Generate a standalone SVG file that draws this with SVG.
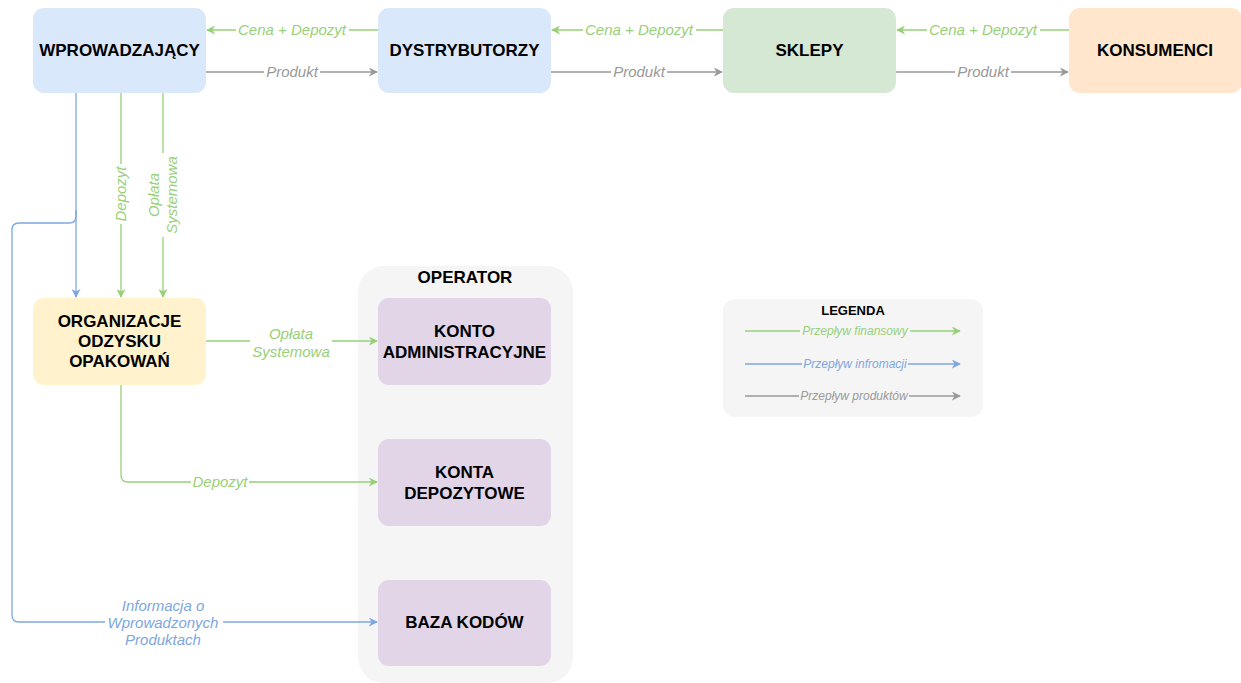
<svg xmlns="http://www.w3.org/2000/svg" width="1241" height="683" viewBox="0 0 1241 683">
<defs>
<style>
.node{stroke:none}
.blue{fill:#dae8fc}.green{fill:#d5e8d4}.orange{fill:#ffe6cc}.yellow{fill:#fff2cc}.purple{fill:#e1d5e7}.grey{fill:#f5f5f5}
.nt{font-family:"Liberation Sans",Arial,sans-serif;font-weight:bold;font-size:17px;fill:#000;text-anchor:middle}
.lbl{font-family:"Liberation Sans",Arial,sans-serif;font-style:italic;font-size:15px;text-anchor:middle}
.lg{font-family:"Liberation Sans",Arial,sans-serif;font-style:italic;font-size:12px;text-anchor:middle}
.cg{stroke:#97d077;fill:none;stroke-width:1.3}
.cb{stroke:#7ea6e0;fill:none;stroke-width:1.3}
.cy{stroke:#999999;fill:none;stroke-width:1.3}
.tg{fill:#97d077}.tb{fill:#7ea6e0}.ty{fill:#999999}
.bg{fill:#ffffff}
</style>
<marker id="ag" viewBox="0 0 10 10" refX="9" refY="5" markerWidth="9" markerHeight="9" markerUnits="userSpaceOnUse" orient="auto"><path d="M0,0 L10,5 L0,10 L3,5 z" fill="#97d077"/></marker>
<marker id="ab" viewBox="0 0 10 10" refX="9" refY="5" markerWidth="9" markerHeight="9" markerUnits="userSpaceOnUse" orient="auto"><path d="M0,0 L10,5 L0,10 L3,5 z" fill="#7ea6e0"/></marker>
<marker id="ay" viewBox="0 0 10 10" refX="9" refY="5" markerWidth="9" markerHeight="9" markerUnits="userSpaceOnUse" orient="auto"><path d="M0,0 L10,5 L0,10 L3,5 z" fill="#999999"/></marker>
</defs>
<rect width="1241" height="683" fill="#ffffff"/>

<g id="operator">
<rect class="grey" x="358" y="266" width="215" height="417" rx="26"/>
<text class="nt" x="465" y="283">OPERATOR</text>
</g>

<g id="legend">
<rect class="grey" x="723" y="299" width="260" height="118" rx="12"/>
<text class="nt" x="853" y="315" style="font-size:13px">LEGENDA</text>
<line class="cg" x1="745" y1="331" x2="960" y2="331" marker-end="url(#ag)"/>
<rect class="grey" x="800" y="324" width="110" height="14"/>
<text class="lg tg" x="855" y="335">Przepływ finansowy</text>
<line class="cb" x1="745" y1="364" x2="960" y2="364" marker-end="url(#ab)"/>
<rect class="grey" x="802" y="357" width="106" height="14"/>
<text class="lg tb" x="855" y="368">Przepływ infromacji</text>
<line class="cy" x1="745" y1="396" x2="960" y2="396" marker-end="url(#ay)"/>
<rect class="grey" x="799" y="389" width="110" height="14"/>
<text class="lg ty" x="854" y="400">Przepływ produktów</text>
</g>

<g id="connectors">
<line class="cg" x1="378" y1="30" x2="207" y2="30" marker-end="url(#ag)"/>
<line class="cg" x1="723" y1="30" x2="552" y2="30" marker-end="url(#ag)"/>
<line class="cg" x1="1069" y1="30" x2="897" y2="30" marker-end="url(#ag)"/>
<line class="cy" x1="206" y1="72" x2="377" y2="72" marker-end="url(#ay)"/>
<line class="cy" x1="551" y1="72" x2="722" y2="72" marker-end="url(#ay)"/>
<line class="cy" x1="896" y1="72" x2="1068" y2="72" marker-end="url(#ay)"/>
<line class="cb" x1="76" y1="93" x2="76" y2="297" marker-end="url(#ab)"/>
<line class="cg" x1="121" y1="93" x2="121" y2="297" marker-end="url(#ag)"/>
<line class="cg" x1="163" y1="93" x2="163" y2="297" marker-end="url(#ag)"/>
<path class="cb" d="M76,210 L76,216 Q76,223 69,223 L19,223 Q12,223 12,230 L12,615 Q12,622 19,622 L377,622" marker-end="url(#ab)"/>
<line class="cg" x1="206" y1="341" x2="377" y2="341" marker-end="url(#ag)"/>
<path class="cg" d="M121,385 L121,475 Q121,482 128,482 L377,482" marker-end="url(#ag)"/>

<rect class="bg" x="236" y="22" width="113" height="16"/>
<rect class="bg" x="583" y="22" width="113" height="16"/>
<rect class="bg" x="927" y="22" width="113" height="16"/>
<rect class="bg" x="264" y="64" width="56" height="16"/>
<rect class="bg" x="611" y="64" width="56" height="16"/>
<rect class="bg" x="955" y="64" width="56" height="16"/>
<rect class="bg" x="113" y="164" width="16" height="60"/>
<rect class="bg" x="147" y="153" width="34" height="84"/>
<rect class="bg" x="250" y="325" width="82" height="34"/>
<rect class="bg" x="191" y="474" width="58" height="16"/>
<rect class="bg" x="105" y="597" width="118" height="51"/>

<text class="lbl tg" x="292" y="35">Cena + Depozyt</text>
<text class="lbl tg" x="639" y="35">Cena + Depozyt</text>
<text class="lbl tg" x="983" y="35">Cena + Depozyt</text>
<text class="lbl ty" x="292" y="77">Produkt</text>
<text class="lbl ty" x="639" y="77">Produkt</text>
<text class="lbl ty" x="983" y="77">Produkt</text>
<text class="lbl tg" transform="translate(126,194) rotate(-90)">Depozyt</text>
<text class="lbl tg" transform="translate(159,195) rotate(-90)">Opłata</text>
<text class="lbl tg" transform="translate(177,195) rotate(-90)">Systemowa</text>
<text class="lbl tg" x="291" y="339">Opłata</text>
<text class="lbl tg" x="291" y="357">Systemowa</text>
<text class="lbl tg" x="220" y="487">Depozyt</text>
<text class="lbl tb" x="163" y="611">Informacja o</text>
<text class="lbl tb" x="163" y="628">Wprowadzonych</text>
<text class="lbl tb" x="163" y="645">Produktach</text>
</g>

<g id="wprowadzajacy"><rect class="node blue" x="33" y="8" width="173" height="85" rx="11"/><text class="nt" x="119.5" y="56">WPROWADZAJĄCY</text></g>
<g id="dystrybutorzy"><rect class="node blue" x="378" y="8" width="173" height="85" rx="11"/><text class="nt" x="464.5" y="56">DYSTRYBUTORZY</text></g>
<g id="sklepy"><rect class="node green" x="723" y="8" width="173" height="85" rx="11"/><text class="nt" x="809.5" y="56">SKLEPY</text></g>
<g id="konsumenci"><rect class="node orange" x="1069" y="8" width="173" height="85" rx="11"/><text class="nt" x="1155" y="56">KONSUMENCI</text></g>
<g id="organizacje"><rect class="node yellow" x="33" y="298" width="173" height="87" rx="11"/><text class="nt" x="119.5" y="327">ORGANIZACJE</text><text class="nt" x="119.5" y="347">ODZYSKU</text><text class="nt" x="119.5" y="367">OPAKOWAŃ</text></g>
<g id="konto-admin"><rect class="node purple" x="378" y="298" width="173" height="87" rx="11"/><text class="nt" x="464.5" y="337">KONTO</text><text class="nt" x="464.5" y="358">ADMINISTRACYJNE</text></g>
<g id="konta-depo"><rect class="node purple" x="378" y="439" width="173" height="87" rx="11"/><text class="nt" x="464.5" y="478">KONTA</text><text class="nt" x="464.5" y="499">DEPOZYTOWE</text></g>
<g id="baza"><rect class="node purple" x="378" y="580" width="173" height="86" rx="11"/><text class="nt" x="464.5" y="628">BAZA KODÓW</text></g>
</svg>
